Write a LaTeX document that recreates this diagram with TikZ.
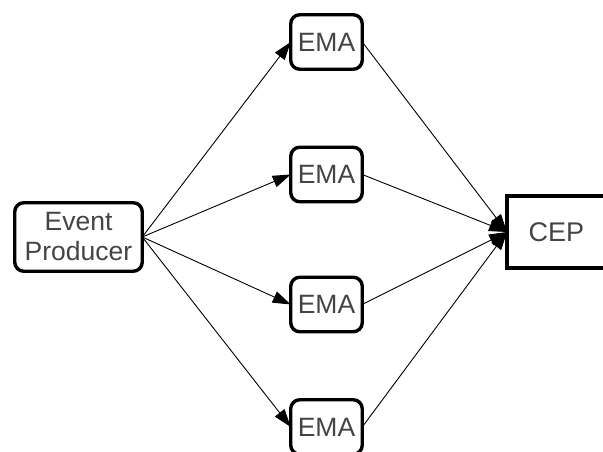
\documentclass[tikz,border=0pt]{standalone}
\usepackage{fontspec}
\setmainfont{Liberation Sans}
\usetikzlibrary{arrows.meta}
\definecolor{labelgray}{HTML}{444444}
\begin{document}
\begin{tikzpicture}[x=1pt,y=1pt,
  box/.style={draw=black, line width=3.4pt, rounded corners=9pt,
    text=labelgray, font=\fontsize{26.5}{30}\selectfont, align=center,
    inner sep=0pt, outer sep=0pt},
  emabox/.style={box, minimum width=71.5pt, minimum height=54.5pt},
  sinkbox/.style={draw=black, line width=4pt, text=labelgray,
    font=\fontsize{27}{31}\selectfont, inner sep=0pt, outer sep=0pt,
    minimum width=99pt, minimum height=72pt},
  flow/.style={draw=black, line width=0.9pt,
    -{Triangle[length=18pt,width=12pt]}}]
  \useasboundingbox (0,0) rectangle (603,452);
  \clip (0,0) rectangle (603,452);

  % source, four averaging stages and the sink
  \node[box, minimum width=127.5pt, minimum height=68.5pt] (prod) at (78.5,215)
    {Event\\Producer};
  \node[emabox] (ema1) at (326.5,410) {EMA};
  \node[emabox] (ema2) at (326.5,277.5) {EMA};
  \node[emabox] (ema3) at (326.5,147.5) {EMA};
  \node[emabox] (ema4) at (326.5,25) {EMA};
  \node[sinkbox] (cep) at (556.5,220) {CEP};

  % fan-out from the producer
  \foreach \e in {ema1,ema2,ema3,ema4}
    \draw[flow] (prod.east) -- (\e.west);

  % fan-in to the event processor
  \foreach \e in {ema1,ema2,ema3,ema4}
    \draw[flow] (\e.east) -- (cep.west);
\end{tikzpicture}
\end{document}
